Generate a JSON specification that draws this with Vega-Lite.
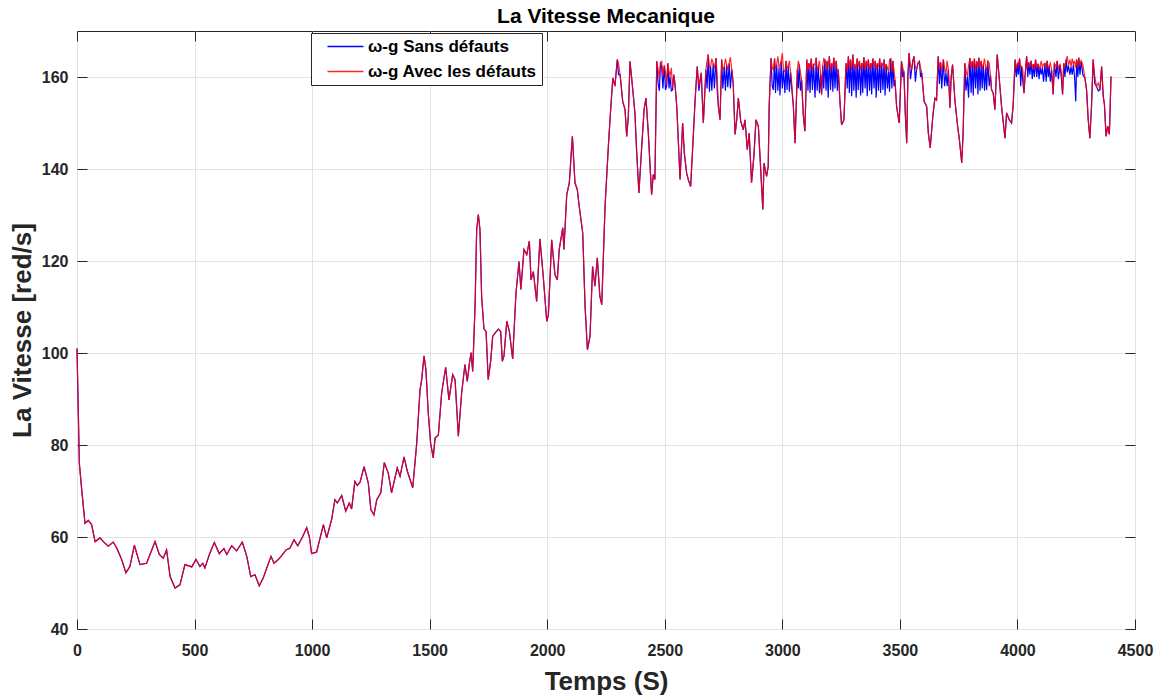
{
"$schema":"https://vega.github.io/schema/vega-lite/v6.json",
"width":1058,"height":598,
"autosize":{"type":"none"},
"padding":{"left":77,"top":31,"right":28,"bottom":66},
"background":"#ffffff",
"title":{"text":"La Vitesse Mecanique","font":"Liberation Sans","fontSize":21,"fontWeight":"bold","color":"#000000","offset":4},
"data":{"values":[
{"t":0,"a":101,"b":101},{"t":5,"a":88.5,"b":88.5},{"t":10,"a":76,"b":76},{"t":20,"a":70.3,"b":70.3},{"t":34,"a":63,"b":63},{"t":48,"a":63.6,"b":63.6},{"t":62,"a":62.7,"b":62.7},{"t":77,"a":59,"b":59},{"t":98,"a":59.8,"b":59.8},{"t":112,"a":59,"b":59},{"t":133,"a":58,"b":58},{"t":154,"a":58.9,"b":58.9},{"t":169,"a":57.6,"b":57.6},{"t":190,"a":55.1,"b":55.1},{"t":208,"a":52.2,"b":52.2},{"t":225,"a":53.6,"b":53.6},{"t":244,"a":58.2,"b":58.2},{"t":268,"a":54,"b":54},{"t":296,"a":54.3,"b":54.3},{"t":332,"a":59,"b":59},{"t":350,"a":56.2,"b":56.2},{"t":367,"a":55.4,"b":55.4},{"t":381,"a":57.2,"b":57.2},{"t":396,"a":51.4,"b":51.4},{"t":417,"a":48.9,"b":48.9},{"t":438,"a":49.6,"b":49.6},{"t":459,"a":54,"b":54},{"t":488,"a":53.5,"b":53.5},{"t":506,"a":55.1,"b":55.1},{"t":523,"a":53.6,"b":53.6},{"t":535,"a":54.3,"b":54.3},{"t":544,"a":53.3,"b":53.3},{"t":563,"a":56.2,"b":56.2},{"t":584,"a":58.8,"b":58.8},{"t":605,"a":56.4,"b":56.4},{"t":625,"a":57.5,"b":57.5},{"t":637,"a":56.2,"b":56.2},{"t":658,"a":58.1,"b":58.1},{"t":679,"a":57,"b":57},{"t":703,"a":58.9,"b":58.9},{"t":722,"a":55.8,"b":55.8},{"t":739,"a":51.4,"b":51.4},{"t":757,"a":51.8,"b":51.8},{"t":775,"a":49.4,"b":49.4},{"t":792,"a":51.1,"b":51.1},{"t":825,"a":55.8,"b":55.8},{"t":838,"a":54.3,"b":54.3},{"t":856,"a":55.1,"b":55.1},{"t":868,"a":55.8,"b":55.8},{"t":889,"a":57.2,"b":57.2},{"t":906,"a":57.6,"b":57.6},{"t":923,"a":59.4,"b":59.4},{"t":939,"a":58.1,"b":58.1},{"t":960,"a":60.1,"b":60.1},{"t":977,"a":62,"b":62},{"t":988,"a":60.1,"b":60.1},{"t":998,"a":56.4,"b":56.4},{"t":1019,"a":56.7,"b":56.7},{"t":1048,"a":62.7,"b":62.7},{"t":1062,"a":59.8,"b":59.8},{"t":1083,"a":63.8,"b":63.8},{"t":1097,"a":68.1,"b":68.1},{"t":1107,"a":67.4,"b":67.4},{"t":1126,"a":69,"b":69},{"t":1143,"a":65.6,"b":65.6},{"t":1158,"a":67.4,"b":67.4},{"t":1168,"a":66.1,"b":66.1},{"t":1182,"a":72.1,"b":72.1},{"t":1192,"a":71.2,"b":71.2},{"t":1204,"a":71.9,"b":71.9},{"t":1221,"a":75.3,"b":75.3},{"t":1239,"a":71.7,"b":71.7},{"t":1250,"a":65.9,"b":65.9},{"t":1263,"a":64.8,"b":64.8},{"t":1275,"a":68.1,"b":68.1},{"t":1292,"a":69.6,"b":69.6},{"t":1307,"a":76.2,"b":76.2},{"t":1324,"a":73.9,"b":73.9},{"t":1338,"a":69.6,"b":69.6},{"t":1362,"a":75,"b":75},{"t":1374,"a":73.2,"b":73.2},{"t":1391,"a":77.4,"b":77.4},{"t":1405,"a":74.3,"b":74.3},{"t":1428,"a":70.7,"b":70.7},{"t":1445,"a":80.4,"b":80.4},{"t":1459,"a":92,"b":92},{"t":1466,"a":94.2,"b":94.2},{"t":1476,"a":99.4,"b":99.4},{"t":1484,"a":96.4,"b":96.4},{"t":1494,"a":87,"b":87},{"t":1504,"a":80.4,"b":80.4},{"t":1515,"a":77.2,"b":77.2},{"t":1523,"a":81.5,"b":81.5},{"t":1537,"a":82.2,"b":82.2},{"t":1551,"a":91.3,"b":91.3},{"t":1568,"a":96.9,"b":96.9},{"t":1582,"a":89.8,"b":89.8},{"t":1598,"a":95.3,"b":95.3},{"t":1608,"a":94.2,"b":94.2},{"t":1622,"a":81.9,"b":81.9},{"t":1636,"a":91.3,"b":91.3},{"t":1650,"a":97.5,"b":97.5},{"t":1660,"a":93.8,"b":93.8},{"t":1669,"a":97.7,"b":97.7},{"t":1676,"a":100.1,"b":100.1},{"t":1683,"a":96,"b":96},{"t":1693,"a":110.1,"b":110.1},{"t":1700,"a":126.8,"b":126.8},{"t":1707,"a":130.1,"b":130.1},{"t":1714,"a":126.8,"b":126.8},{"t":1721,"a":112.3,"b":112.3},{"t":1731,"a":105.2,"b":105.2},{"t":1740,"a":104.7,"b":104.7},{"t":1749,"a":94.2,"b":94.2},{"t":1760,"a":98.5,"b":98.5},{"t":1768,"a":103.6,"b":103.6},{"t":1778,"a":104.3,"b":104.3},{"t":1792,"a":105.2,"b":105.2},{"t":1802,"a":104.7,"b":104.7},{"t":1809,"a":98.2,"b":98.2},{"t":1816,"a":99.3,"b":99.3},{"t":1828,"a":106.9,"b":106.9},{"t":1839,"a":104.7,"b":104.7},{"t":1853,"a":98.7,"b":98.7},{"t":1867,"a":113,"b":113},{"t":1880,"a":119.9,"b":119.9},{"t":1888,"a":113.8,"b":113.8},{"t":1901,"a":122.5,"b":122.5},{"t":1913,"a":121.4,"b":121.4},{"t":1924,"a":124.3,"b":124.3},{"t":1931,"a":115.9,"b":115.9},{"t":1941,"a":117.7,"b":117.7},{"t":1955,"a":111.2,"b":111.2},{"t":1969,"a":124.8,"b":124.8},{"t":1983,"a":116.7,"b":116.7},{"t":1998,"a":106.9,"b":106.9},{"t":2005,"a":108.3,"b":108.3},{"t":2019,"a":124.6,"b":124.6},{"t":2033,"a":117,"b":117},{"t":2043,"a":115.9,"b":115.9},{"t":2051,"a":122.5,"b":122.5},{"t":2066,"a":127.2,"b":127.2},{"t":2071,"a":122.5,"b":122.5},{"t":2083,"a":134.4,"b":134.4},{"t":2094,"a":137,"b":137},{"t":2107,"a":147.1,"b":147.1},{"t":2118,"a":137,"b":137},{"t":2128,"a":135.5,"b":135.5},{"t":2136,"a":131.9,"b":131.9},{"t":2151,"a":126.1,"b":126.1},{"t":2161,"a":110.1,"b":110.1},{"t":2171,"a":100.7,"b":100.7},{"t":2182,"a":103.6,"b":103.6},{"t":2193,"a":118.8,"b":118.8},{"t":2203,"a":114.5,"b":114.5},{"t":2213,"a":120.7,"b":120.7},{"t":2224,"a":112.3,"b":112.3},{"t":2232,"a":110.5,"b":110.5},{"t":2246,"a":131.9,"b":131.9},{"t":2260,"a":144.9,"b":144.9},{"t":2267,"a":150.7,"b":150.7},{"t":2279,"a":159.8,"b":159.8},{"t":2288,"a":158,"b":158},{"t":2298,"a":163.8,"b":163.8},{"t":2303,"a":160.5,"b":163},{"t":2310,"a":160.5,"b":160.5},{"t":2321,"a":154.7,"b":154.7},{"t":2331,"a":152.9,"b":152.9},{"t":2338,"a":147.1,"b":147.1},{"t":2345,"a":151.4,"b":151.4},{"t":2352,"a":163.4,"b":163.4},{"t":2364,"a":157.2,"b":157.2},{"t":2373,"a":152.2,"b":152.2},{"t":2380,"a":144.2,"b":144.2},{"t":2390,"a":134.8,"b":134.8},{"t":2402,"a":144.9,"b":144.9},{"t":2412,"a":152.9,"b":152.9},{"t":2420,"a":155.4,"b":155.4},{"t":2430,"a":147.8,"b":147.8},{"t":2444,"a":134.4,"b":134.4},{"t":2451,"a":138.8,"b":138.8},{"t":2458,"a":137.7,"b":137.7},
{"t":2466,"a":163.4,"b":163.4},{"t":2472,"a":158.5,"b":161.5},{"t":2477,"a":157,"b":159.8},{"t":2482,"a":163.2,"b":163.2},{"t":2487,"a":162,"b":163.4},{"t":2492,"a":157.5,"b":160.5},{"t":2498,"a":162.5,"b":162.5},{"t":2503,"a":157.2,"b":161},{"t":2508,"a":158,"b":158.5},{"t":2513,"a":163,"b":163},{"t":2518,"a":157.5,"b":161.2},{"t":2522,"a":160.1,"b":160.1},{"t":2528,"a":157,"b":162},{"t":2533,"a":157.2,"b":157.5},{"t":2538,"a":160.5,"b":160.5},{"t":2543,"a":158.7,"b":158.7},{"t":2551,"a":153.6,"b":153.6},
{"t":2565,"a":137.7,"b":137.7},{"t":2576,"a":150,"b":150},{"t":2583,"a":143.5,"b":143.5},{"t":2593,"a":139.1,"b":139.1},{"t":2600,"a":137.7,"b":137.7},{"t":2610,"a":136.2,"b":136.2},{"t":2619,"a":144.9,"b":144.9},{"t":2629,"a":155,"b":155},{"t":2638,"a":162.3,"b":162.3},{"t":2645,"a":157,"b":158},{"t":2655,"a":160.9,"b":160.9},{"t":2664,"a":150,"b":150},
{"t":2675,"a":161.6,"b":161.6},{"t":2680,"a":157.5,"b":163.5},{"t":2685,"a":164.9,"b":164.9},{"t":2690,"a":156.8,"b":162},{"t":2695,"a":162.3,"b":162.3},{"t":2700,"a":157,"b":164},{"t":2706,"a":163,"b":163},{"t":2711,"a":157.5,"b":161.8},{"t":2718,"a":164.1,"b":164.1},{"t":2723,"a":157,"b":160},{"t":2728,"a":153.6,"b":153.6},{"t":2735,"a":150.7,"b":150.7},{"t":2742,"a":163.8,"b":163.8},{"t":2747,"a":157.5,"b":161.5},{"t":2753,"a":162.3,"b":162.3},{"t":2758,"a":157,"b":164},{"t":2763,"a":162.7,"b":162.7},{"t":2768,"a":157.8,"b":161.5},{"t":2774,"a":163,"b":163},{"t":2779,"a":157.5,"b":164.3},{"t":2785,"a":161.6,"b":161.6},{"t":2791,"a":158.7,"b":158.7},
{"t":2799,"a":147.5,"b":147.5},{"t":2806,"a":150.7,"b":150.7},{"t":2813,"a":155.4,"b":155.4},{"t":2823,"a":150.4,"b":150.4},{"t":2834,"a":148.5,"b":148.5},{"t":2841,"a":150.7,"b":150.7},{"t":2851,"a":144.2,"b":144.2},{"t":2859,"a":147.8,"b":147.8},{"t":2869,"a":137,"b":137},{"t":2879,"a":142.8,"b":142.8},{"t":2888,"a":150.7,"b":150.7},{"t":2898,"a":149.3,"b":149.3},{"t":2905,"a":142.8,"b":142.8},{"t":2917,"a":131.2,"b":131.2},{"t":2922,"a":141.3,"b":141.3},{"t":2933,"a":138.4,"b":138.4},{"t":2940,"a":140.6,"b":140.6},{"t":2944,"a":153.6,"b":153.6},
{"t":2952,"a":164.1,"b":164.1},{"t":2957,"a":158,"b":162},{"t":2962,"a":157.2,"b":161.6},{"t":2967,"a":164,"b":164},{"t":2971,"a":156.5,"b":161.8},{"t":2976,"a":162.7,"b":162.7},{"t":2981,"a":157,"b":164.5},{"t":2986,"a":162,"b":162},{"t":2990,"a":156,"b":162.5},{"t":2995,"a":163.5,"b":163.5},{"t":3000,"a":157.5,"b":165.2},{"t":3005,"a":161.5,"b":161.5},{"t":3011,"a":156.5,"b":161.2},{"t":3016,"a":163.5,"b":163.5},{"t":3020,"a":157.2,"b":162},{"t":3025,"a":162.3,"b":162.3},{"t":3030,"a":156.8,"b":163.5},{"t":3035,"a":161,"b":161},{"t":3040,"a":157.5,"b":158.7},{"t":3047,"a":153.6,"b":153.6},{"t":3054,"a":145.6,"b":145.6},{"t":3064,"a":161.6,"b":161.6},{"t":3068,"a":157.5,"b":163.5},{"t":3072,"a":162.7,"b":162.7},{"t":3077,"a":157,"b":161},{"t":3082,"a":159.4,"b":159.4},{"t":3089,"a":151.8,"b":151.8},{"t":3096,"a":148.2,"b":148.2},
{"t":3104,"a":163.8,"b":163.8},{"t":3109,"a":157,"b":161.5},{"t":3113,"a":163,"b":163},{"t":3118,"a":156.5,"b":162},{"t":3123,"a":164,"b":164},{"t":3128,"a":157.2,"b":161.2},{"t":3133,"a":162.8,"b":162.8},{"t":3139,"a":155.5,"b":162.7},{"t":3144,"a":164.2,"b":164.2},{"t":3148,"a":157,"b":161.5},{"t":3153,"a":162.3,"b":162.3},{"t":3158,"a":156.5,"b":163.5},{"t":3163,"a":160.5,"b":160.5},{"t":3167,"a":156.2,"b":156.2},{"t":3172,"a":162.5,"b":162.5},{"t":3176,"a":157.5,"b":164},{"t":3181,"a":163.8,"b":163.8},{"t":3186,"a":157,"b":161.5},{"t":3190,"a":163.5,"b":163.5},{"t":3195,"a":155.5,"b":162.3},{"t":3200,"a":164.5,"b":164.5},{"t":3205,"a":157.2,"b":161.2},{"t":3210,"a":163,"b":163},{"t":3215,"a":156.8,"b":162},{"t":3219,"a":164.2,"b":164.2},{"t":3224,"a":157.5,"b":162.3},{"t":3229,"a":163.5,"b":163.5},{"t":3234,"a":157,"b":161},{"t":3238,"a":161.6,"b":161.6},{"t":3245,"a":154.7,"b":154.7},{"t":3252,"a":149.6,"b":149.6},{"t":3262,"a":150.7,"b":150.7},
{"t":3271,"a":163,"b":163},{"t":3276,"a":157.5,"b":161.5},{"t":3281,"a":164.5,"b":164.5},{"t":3285,"a":156.5,"b":162},{"t":3290,"a":163.8,"b":163.8},{"t":3295,"a":155.8,"b":161.5},{"t":3300,"a":164.9,"b":164.9},{"t":3304,"a":157,"b":162.5},{"t":3309,"a":162.7,"b":162.7},{"t":3314,"a":155.5,"b":161.2},{"t":3318,"a":164,"b":164},{"t":3323,"a":157.2,"b":162.3},{"t":3328,"a":163.5,"b":163.5},{"t":3333,"a":156,"b":161.5},{"t":3338,"a":163,"b":163},{"t":3342,"a":156.5,"b":162},{"t":3347,"a":164.3,"b":164.3},{"t":3352,"a":157.5,"b":161.5},{"t":3357,"a":163.5,"b":163.5},{"t":3361,"a":155.8,"b":162.3},{"t":3366,"a":163.8,"b":163.8},{"t":3371,"a":157,"b":161.5},{"t":3376,"a":163,"b":163},{"t":3380,"a":156.2,"b":162},{"t":3385,"a":164,"b":164},{"t":3390,"a":157.5,"b":162.3},{"t":3395,"a":163.5,"b":163.5},{"t":3399,"a":155.5,"b":161.5},{"t":3404,"a":163,"b":163},{"t":3409,"a":157,"b":162.2},{"t":3414,"a":164,"b":164},{"t":3418,"a":156.5,"b":161.8},{"t":3423,"a":163,"b":163},{"t":3428,"a":157.2,"b":162.5},{"t":3433,"a":163.8,"b":163.8},{"t":3437,"a":156,"b":161.2},{"t":3442,"a":162.8,"b":162.8},{"t":3447,"a":157.5,"b":162},{"t":3452,"a":161.2,"b":161.2},{"t":3456,"a":156.8,"b":163.8},{"t":3461,"a":164,"b":164},{"t":3466,"a":157.5,"b":161},{"t":3470,"a":163.5,"b":163.5},{"t":3475,"a":158,"b":161.5},{"t":3479,"a":159.4,"b":159.4},{"t":3486,"a":153.6,"b":153.6},{"t":3497,"a":150,"b":150},
{"t":3507,"a":163.4,"b":163.4},{"t":3512,"a":160,"b":162},{"t":3517,"a":161.2,"b":161.2},{"t":3523,"a":152,"b":152},{"t":3529,"a":145.6,"b":145.6},{"t":3534,"a":160,"b":160},{"t":3539,"a":165.2,"b":165.2},{"t":3545,"a":159.5,"b":162.5},{"t":3550,"a":161.6,"b":161.6},{"t":3555,"a":163.5,"b":163.5},{"t":3560,"a":164.5,"b":164.5},{"t":3566,"a":159,"b":162},{"t":3571,"a":161.6,"b":161.6},{"t":3577,"a":163,"b":163},{"t":3583,"a":163.4,"b":163.4},{"t":3588,"a":160,"b":162},{"t":3593,"a":160.9,"b":160.9},{"t":3603,"a":154.7,"b":154.7},{"t":3614,"a":153.6,"b":153.6},{"t":3621,"a":147.8,"b":147.8},{"t":3629,"a":144.6,"b":144.6},{"t":3640,"a":151.4,"b":151.4},{"t":3649,"a":155.4,"b":155.4},{"t":3656,"a":155,"b":155},
{"t":3663,"a":164.5,"b":164.5},{"t":3668,"a":158.5,"b":162},{"t":3673,"a":163.2,"b":163.2},{"t":3678,"a":157.5,"b":161.2},{"t":3685,"a":163.8,"b":163.8},{"t":3690,"a":158,"b":162},{"t":3696,"a":160.9,"b":160.9},{"t":3701,"a":158,"b":163.5},{"t":3706,"a":161.6,"b":161.6},{"t":3713,"a":153.3,"b":153.3},{"t":3718,"a":160,"b":160},{"t":3724,"a":162.7,"b":162.7},{"t":3734,"a":155,"b":155},{"t":3744,"a":150,"b":150},{"t":3753,"a":146.4,"b":146.4},{"t":3763,"a":141.3,"b":141.3},{"t":3769,"a":147.8,"b":147.8},
{"t":3776,"a":163,"b":163},{"t":3781,"a":157,"b":161.5},{"t":3787,"a":160.1,"b":160.1},{"t":3792,"a":155.5,"b":162.5},{"t":3798,"a":164.1,"b":164.1},{"t":3803,"a":156.5,"b":162},{"t":3808,"a":163.5,"b":163.5},{"t":3812,"a":156,"b":162},{"t":3817,"a":164,"b":164},{"t":3822,"a":157.5,"b":161.5},{"t":3827,"a":163.4,"b":163.4},{"t":3832,"a":156.2,"b":162},{"t":3836,"a":164.2,"b":164.2},{"t":3841,"a":157,"b":162.3},{"t":3846,"a":163.5,"b":163.5},{"t":3850,"a":157.5,"b":161.5},{"t":3855,"a":162.7,"b":162.7},{"t":3860,"a":157,"b":164},{"t":3865,"a":162,"b":162},{"t":3869,"a":157.2,"b":161.6},{"t":3874,"a":163.5,"b":163.5},{"t":3880,"a":158,"b":163},{"t":3885,"a":160.5,"b":160.5},{"t":3890,"a":157.2,"b":157.2},{"t":3897,"a":156.5,"b":156.5},{"t":3904,"a":152.9,"b":152.9},{"t":3914,"a":164.9,"b":164.9},{"t":3923,"a":159.4,"b":159.4},{"t":3933,"a":153.3,"b":153.3},{"t":3940,"a":150,"b":150},{"t":3947,"a":146.7,"b":146.7},{"t":3954,"a":152.2,"b":152.2},{"t":3965,"a":150.7,"b":150.7},{"t":3975,"a":150,"b":150},{"t":3982,"a":154,"b":154},
{"t":3990,"a":163.8,"b":163.8},{"t":3995,"a":160,"b":161.8},{"t":4000,"a":163,"b":163},{"t":4004,"a":160.5,"b":162.7},{"t":4009,"a":164,"b":164},{"t":4014,"a":158,"b":162},{"t":4018,"a":162.3,"b":162.3},{"t":4023,"a":159,"b":161.5},{"t":4028,"a":156.5,"b":156.5},{"t":4032,"a":160,"b":160},{"t":4039,"a":164.5,"b":164.5},{"t":4044,"a":160,"b":162},{"t":4048,"a":163.2,"b":163.2},{"t":4053,"a":160.5,"b":162.3},{"t":4058,"a":163.5,"b":163.5},{"t":4063,"a":159.5,"b":162},{"t":4068,"a":162.8,"b":162.8},{"t":4072,"a":160,"b":161.5},{"t":4077,"a":163.8,"b":163.8},{"t":4082,"a":160,"b":162.2},{"t":4087,"a":162.8,"b":162.8},{"t":4092,"a":159.5,"b":161.8},{"t":4096,"a":162.3,"b":162.3},{"t":4101,"a":160.5,"b":163.5},{"t":4106,"a":162,"b":162},{"t":4111,"a":159,"b":162.8},{"t":4117,"a":163,"b":163},{"t":4122,"a":159,"b":161.8},{"t":4126,"a":163.5,"b":163.5},{"t":4131,"a":160,"b":162},{"t":4135,"a":162.3,"b":162.3},{"t":4140,"a":159,"b":163},{"t":4145,"a":161.6,"b":161.6},{"t":4152,"a":156.2,"b":156.2},{"t":4157,"a":163,"b":163},{"t":4164,"a":160,"b":162.3},{"t":4169,"a":163.5,"b":163.5},{"t":4174,"a":159.5,"b":161.8},{"t":4181,"a":162.7,"b":162.7},{"t":4187,"a":159.5,"b":161},{"t":4192,"a":156.2,"b":156.2},{"t":4197,"a":163,"b":163},{"t":4202,"a":160,"b":162.3},{"t":4207,"a":163.8,"b":163.8},{"t":4212,"a":161,"b":164.5},{"t":4217,"a":162.5,"b":162.5},{"t":4223,"a":160.5,"b":163.8},{"t":4228,"a":162.2,"b":162.2},{"t":4233,"a":160.5,"b":164},{"t":4238,"a":162.7,"b":162.7},{"t":4243,"a":160,"b":163.5},{"t":4248,"a":154.7,"b":162},{"t":4252,"a":163.8,"b":163.8},{"t":4257,"a":160,"b":162},{"t":4261,"a":164.2,"b":164.2},{"t":4266,"a":160.5,"b":162.3},{"t":4271,"a":163.5,"b":163.5},{"t":4278,"a":160.5,"b":162.7},{"t":4287,"a":159.8,"b":159.8},{"t":4294,"a":157.2,"b":157.2},{"t":4301,"a":150.7,"b":150.7},{"t":4308,"a":146.7,"b":146.7},{"t":4315,"a":153.6,"b":153.6},{"t":4322,"a":163.8,"b":163.8},{"t":4329,"a":158.5,"b":160.1},{"t":4336,"a":158,"b":158},{"t":4344,"a":157,"b":158.7},{"t":4351,"a":157.2,"b":157.2},{"t":4358,"a":162.3,"b":162.3},{"t":4365,"a":155.8,"b":155.8},{"t":4370,"a":154,"b":154},{"t":4377,"a":147.1,"b":147.1},{"t":4384,"a":149.3,"b":149.3},{"t":4391,"a":147.5,"b":147.5},{"t":4398,"a":160.1,"b":160.1}
]},
"transform":[{"fold":["a","b"],"as":["s","v"]}],
"layer":[
{"mark":{"type":"line","strokeWidth":1.2,"interpolate":"linear"},
 "encoding":{
  "x":{"field":"t","type":"quantitative","scale":{"domain":[0,4500],"nice":false,"zero":false},
       "axis":{"orient":"bottom","values":[0,500,1000,1500,2000,2500,3000,3500,4000,4500],"format":"d","labelFlush":false,"title":"Temps (S)","labelPadding":23,"titleY":60,"titleBaseline":"alphabetic"}},
  "y":{"field":"v","type":"quantitative","scale":{"domain":[40,170],"nice":false,"zero":false},
       "axis":{"orient":"left","values":[40,60,80,100,120,140,160],"format":"d","labelFlush":false,"title":"La Vitesse [red/s]","labelPadding":19,"titleX":-47,"titleBaseline":"alphabetic"}},
  "color":{"field":"s","type":"nominal","scale":{"domain":["a","b"],"range":["#0000ff","#ff0000"]},
       "legend":{"orient":"none","legendX":234,"legendY":2,"title":null,"labelLimit":400,
         "labelExpr":"datum.value == 'a' ? '\u00a0\u00a0ω-g Sans défauts' : 'ω-g Avec les défauts\u00a0\u00a0'",
         "encode":{"symbols":{"update":{"fill":{"value":"transparent"},"stroke":{"scale":"color","field":"value"},"strokeWidth":{"value":1.3},"opacity":{"value":1}}}}}},
  "opacity":{"field":"s","type":"nominal","scale":{"domain":["a","b"],"range":[1,0.85]},"legend":null}
 }},
{"mark":{"type":"line","opacity":0},
 "encoding":{
  "x":{"field":"t","type":"quantitative","axis":{"orient":"top","labels":false,"grid":false,"title":null,"values":[0,500,1000,1500,2000,2500,3000,3500,4000,4500]}},
  "y":{"field":"v","type":"quantitative","axis":{"orient":"right","labels":false,"grid":false,"title":null,"values":[40,60,80,100,120,140,160]}}
 }}
],
"resolve":{"axis":{"x":"independent","y":"independent"}},
"config":{
 "view":{"stroke":"#262626","strokeWidth":1},
 "axis":{"domain":false,"grid":true,"gridColor":"#e3e3e3","gridWidth":1,"tickColor":"#262626","tickSize":-10,"tickWidth":1,
   "labelFont":"Liberation Sans","labelFontWeight":"bold","labelFontSize":16,"labelColor":"#262626",
   "titleFont":"Liberation Sans","titleFontWeight":"bold","titleFontSize":26,"titleColor":"#262626"},
 "legend":{"strokeColor":"#262626","fillColor":"#ffffff","padding":5,"symbolType":"M-3,0L3,0","symbolSize":144,"symbolStrokeWidth":1.3,
   "labelFont":"Liberation Sans","labelFontSize":17,"labelFontWeight":"bold","labelColor":"#000000","rowPadding":7,"symbolOffset":21,"labelOffset":14,"cornerRadius":0}
}
}
